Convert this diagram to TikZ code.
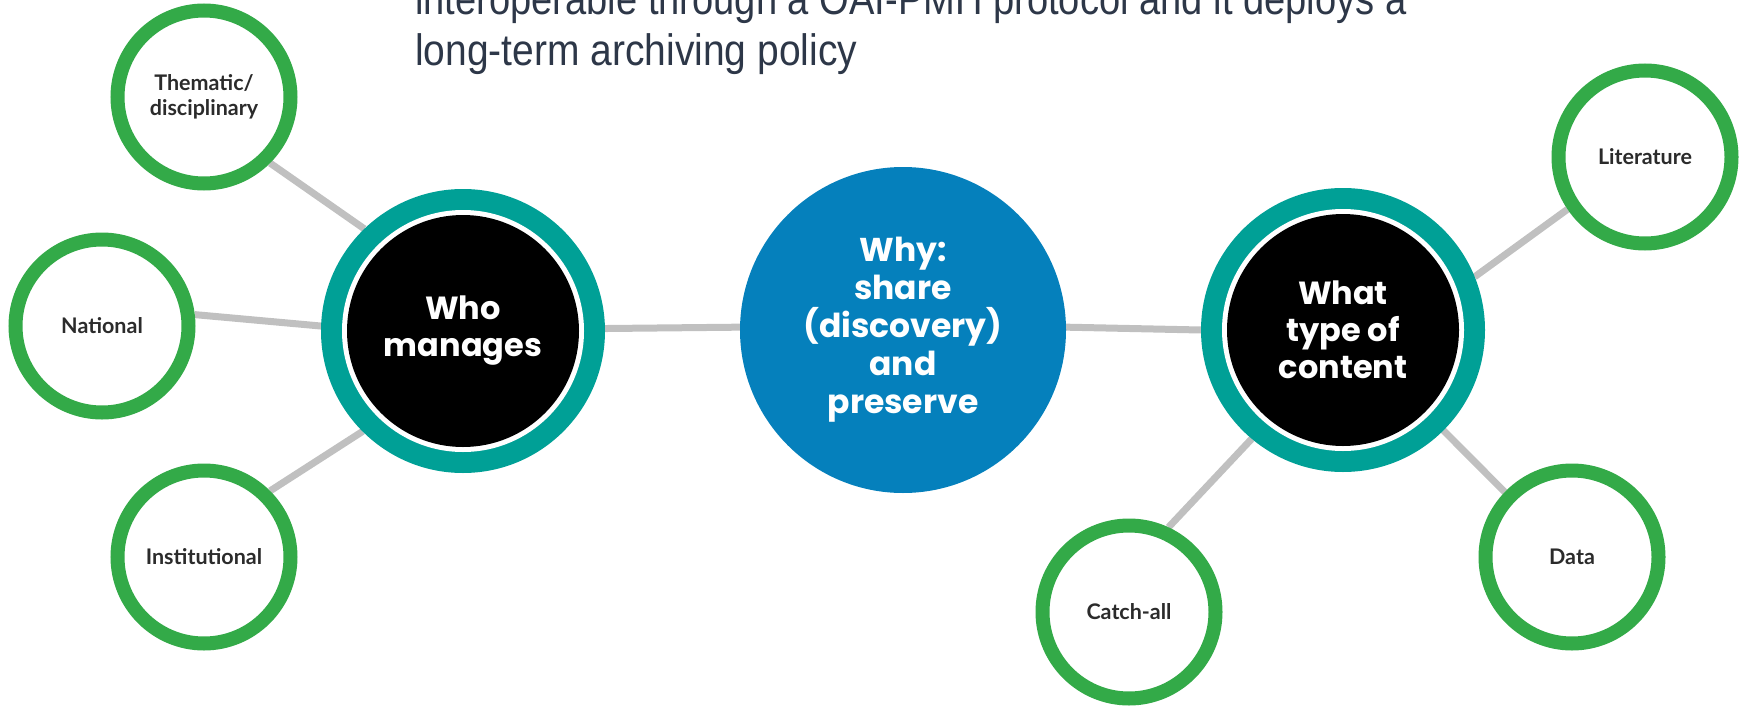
\documentclass[tikz,border=0pt]{standalone}
\usepackage{fontspec}
\usetikzlibrary{backgrounds}
\setmainfont{Liberation Sans}
\newfontfamily\bodyfont{Liberation Sans}[FakeStretch=0.886]
\newfontfamily\bodyfontnarrow{Liberation Sans}[FakeStretch=0.866]
\newfontfamily\hubfont{Poppins}
\newfontfamily\leaffont{Lato}
\definecolor{hubteal}{RGB}{0,160,150}
\definecolor{whyblue}{RGB}{5,128,188}
\definecolor{leafgreen}{RGB}{51,170,72}
\definecolor{linkgray}{RGB}{192,192,192}
\definecolor{leaftext}{RGB}{43,43,43}
\definecolor{bodytext}{RGB}{45,55,72}

\begin{document}
\begin{tikzpicture}[x=1pt,y=-1pt,
  leaf/.style={circle, draw=leafgreen, line width=14pt, fill=white,
    minimum size=173pt, inner sep=0pt, align=center, text=leaftext,
    font=\leaffont\bfseries\fontsize{21.5}{25}\selectfont},
  hub/.style={circle, fill=hubteal, minimum size=284pt, inner sep=0pt,
    outer sep=0pt, align=center, text=white,
    path picture={
      \fill[white] (path picture bounding box.center) circle[radius=121pt];
      \fill[black] (path picture bounding box.center) circle[radius=116pt];},
    font=\hubfont\bfseries\fontsize{32}{37}\selectfont},
  why/.style={circle, fill=whyblue, minimum size=326pt, inner sep=0pt,
    outer sep=0pt, align=center, text=white,
    font=\hubfont\bfseries\fontsize{33}{38}\selectfont},
  link/.style={draw=linkgray, line width=7pt},
  body/.style={inner sep=0pt, anchor=base west, text=bodytext}
]
\useasboundingbox (0,0) rectangle (1741,707);
\clip (0,0) rectangle (1741,707);

% heading text
\node[body, font=\bodyfontnarrow\fontsize{44}{52}\selectfont] (line1) at (415,14)
  {interoperable through a OAI-PMH protocol and it deploys a};
\node[body, font=\bodyfont\fontsize{44}{52}\selectfont] (line2) at (415,65)
  {long-term archiving policy};

% central nodes
\node[hub] (who)  at (463,331)  {Who\\manages};
\node[why] (why)  at (903,330)  {Why:\\share\\(discovery)\\and\\preserve};
\node[hub] (what) at (1343,330) {What\\type of\\content};

% outer nodes
\node[leaf] (them)  at (204,97)   {Thematic/\\disciplinary};
\node[leaf] (nat)   at (102,326)  {National};
\node[leaf] (inst)  at (204,557)  {Institutional};
\node[leaf] (lit)   at (1645,157) {Literature};
\node[leaf] (catch) at (1129,612) {Catch-all};
\node[leaf] (data)  at (1572,557) {Data};

% connectors
\begin{scope}[on background layer]
  \draw[link] (them.-45) -- (who.134);
  \draw[link] (nat.7)    -- (who.178);
  \draw[link] (inst.45)  -- (who.225);
  \draw[link] (who.1)    -- (why.179);
  \draw[link] (why.1)    -- (what.180);
  \draw[link] (what.22)  -- (lit.214);
  \draw[link] (what.230) -- (catch.65);
  \draw[link] (what.-45) -- (data.136);
\end{scope}
\end{tikzpicture}
\end{document}
